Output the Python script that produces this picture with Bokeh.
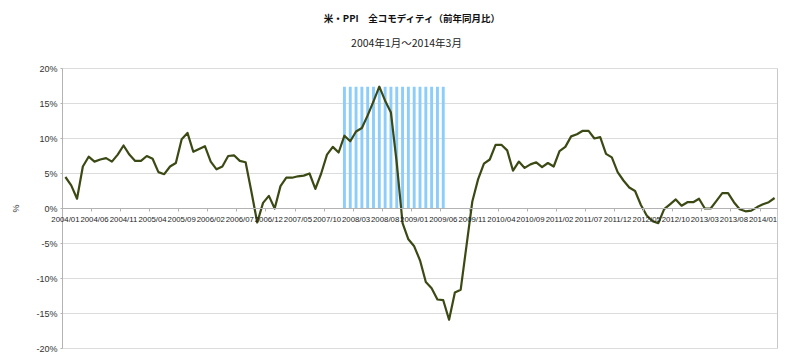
import math
from bokeh.plotting import figure
from bokeh.models import Range1d, FixedTicker, ColumnDataSource, Label
from bokeh.embed import file_html
from bokeh.resources import INLINE

# ---- data ----
start_year, start_month = 2004, 1
ppi_yoy = [
    4.5, 3.3, 1.4, 6.0, 7.4, 6.7, 7.0, 7.2, 6.7, 7.7, 9.0, 7.7,          # 2004
    6.8, 6.8, 7.5, 7.1, 5.2, 4.9, 6.0, 6.5, 9.9, 10.8, 8.1, 8.5,         # 2005
    8.9, 6.7, 5.6, 6.0, 7.5, 7.6, 6.8, 6.6, 2.4, -2.0, 0.8, 1.8,         # 2006
    0.0, 3.2, 4.4, 4.4, 4.6, 4.7, 5.0, 2.8, 5.0, 7.7, 8.8, 8.0,          # 2007
    10.4, 9.6, 11.0, 11.5, 13.3, 15.3, 17.4, 15.4, 13.7, 6.5, -2.1, -4.4,  # 2008
    -5.4, -7.4, -10.5, -11.4, -13.0, -13.1, -15.9, -12.0, -11.6, -5.3, 1.0, 4.2,  # 2009
    6.4, 7.0, 9.1, 9.1, 8.3, 5.4, 6.7, 5.8, 6.3, 6.6, 5.9, 6.5,          # 2010
    6.0, 8.2, 8.8, 10.3, 10.6, 11.1, 11.1, 10.0, 10.2, 7.8, 7.3, 5.2,    # 2011
    4.0, 3.0, 2.5, 0.5, -1.0, -1.8, -2.1, -0.1, 0.6, 1.3, 0.4, 0.9,      # 2012
    0.9, 1.4, 0.0, 0.0, 1.1, 2.2, 2.2, 0.9, -0.1, -0.4, -0.3, 0.2,       # 2013
    0.6, 0.9, 1.5,                                                        # 2014
]
months = []
for i in range(len(ppi_yoy)):
    m = start_month - 1 + i
    months.append(f"{start_year + m // 12}/{m % 12 + 1:02d}")

recession_months = [f"2008/{m:02d}" for m in range(1, 13)] + [f"2009/{m:02d}" for m in range(1, 7)]
recession_height = [17.4] * len(recession_months)

y_ticks = [-20, -15, -10, -5, 0, 5, 10, 15, 20]
label_every = 5
title = "米・PPI　全コモディティ（前年同月比）"
subtitle = "2004年1月～2014年3月"

# ---- layout constants (pixels) ----
W, H = 784, 356
plot_left, plot_top, plot_w, plot_h = 62, 68, 715, 280
n = len(months)
cat_px = plot_w / n
pct_px = plot_h / (y_ticks[-1] - y_ticks[0])
x_start = -0.5 - plot_left / cat_px
x_end = x_start + W / cat_px
y_end = y_ticks[-1] + plot_top / pct_px
y_start = y_end - H / pct_px

idx = list(range(n))
src = ColumnDataSource(dict(x=idx, y=ppi_yoy))
rec_src = ColumnDataSource(dict(x=[months.index(m) for m in recession_months], top=recession_height))

p = figure(width=W, height=H, output_backend="svg", toolbar_location=None,
           x_range=Range1d(x_start, x_end), y_range=Range1d(y_start, y_end),
           min_border=0, outline_line_color=None)
p.xgrid.grid_line_color = None
p.ygrid.grid_line_color = None

# gridlines and right border of the plot area
p.segment(x0=[-0.5] * len(y_ticks), x1=[n - 0.5] * len(y_ticks), y0=y_ticks, y1=y_ticks,
          line_color="#dcdcdc", line_width=1)
p.segment(x0=[n - 0.5], x1=[n - 0.5], y0=[y_ticks[0]], y1=[y_ticks[-1]],
          line_color="#c8c8c8", line_width=1)

p.vbar(x="x", top="top", bottom=0, width=0.5, source=rec_src, color="#8ccdfc", line_color=None)
p.line("x", "y", source=src, line_color="#3b4a14", line_width=2.2, line_join="round")

# x axis crossing at 0%
p.xaxis.fixed_location = 0
p.xaxis.bounds = (-0.5, n - 0.5)
p.xaxis.ticker = FixedTicker(ticks=[i - 0.5 for i in idx[::label_every]])
p.xaxis.major_label_text_color = None
p.xaxis.major_label_standoff = 0
p.xaxis.major_tick_in = 0
p.xaxis.major_tick_out = 3
p.xaxis.minor_tick_line_color = None
p.xaxis.axis_line_color = "#b3b3b3"
p.xaxis.major_tick_line_color = "#b3b3b3"

for i in idx[::label_every]:
    p.add_layout(Label(x=i, y=0, text=months[i], y_offset=-6,
                       text_align="center", text_baseline="top", text_font="Liberation Sans",
                       text_font_size="7.8px", text_color="#1e1e1e"))

# y axis at left edge of the plot area
p.yaxis.fixed_location = -0.5
p.yaxis.bounds = (y_ticks[0], y_ticks[-1])
p.yaxis.ticker = FixedTicker(ticks=y_ticks)
p.yaxis.major_label_overrides = {t: f"{t}%" for t in y_ticks}
p.yaxis.major_label_text_font = "Liberation Sans"
p.yaxis.major_label_text_font_size = "9px"
p.yaxis.major_label_text_color = "#333333"
p.yaxis.major_label_standoff = 3
p.yaxis.major_tick_in = 0
p.yaxis.major_tick_out = 2
p.yaxis.minor_tick_line_color = None
p.yaxis.axis_line_color = "#b3b3b3"
p.yaxis.major_tick_line_color = "#b3b3b3"

p.add_layout(Label(x=x_start, y=0, x_offset=15, text="%", angle=math.pi / 2,
                   text_align="center", text_baseline="middle", text_font="Liberation Sans",
                   text_font_size="9px", text_color="#333333"))

# titles
p.add_layout(Label(x=x_start, y=y_end, x_offset=412, y_offset=-17, text=title,
                   text_align="center", text_baseline="middle", text_font="Noto Sans CJK JP",
                   text_font_size="9.5px", text_font_style="bold", text_color="#111111"))
p.add_layout(Label(x=x_start, y=y_end, x_offset=406, y_offset=-42, text=subtitle,
                   text_align="center", text_baseline="middle", text_font="Noto Sans CJK JP",
                   text_font_size="10.5px", text_color="#222222"))

p.background_fill_color = "white"
p.border_fill_color = "white"

open("out.html", "w").write(file_html(p, INLINE))
